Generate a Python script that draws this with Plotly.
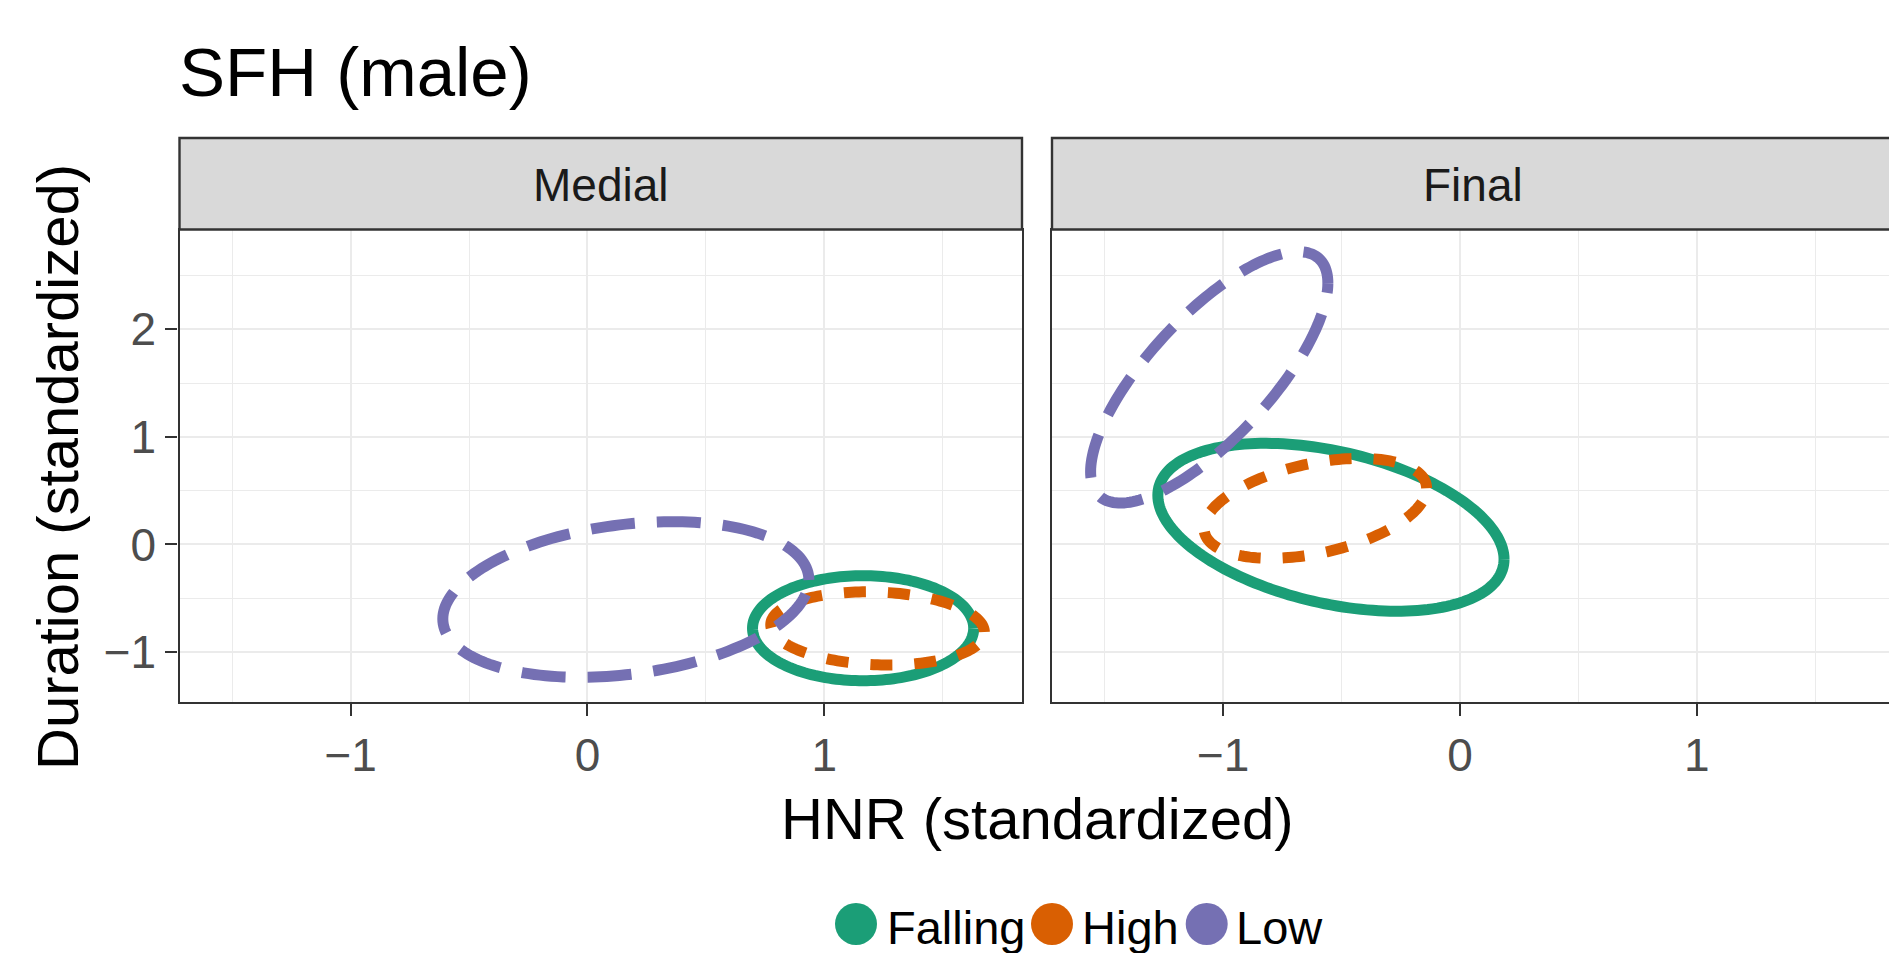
import numpy as np
import plotly.graph_objects as go

W, H = 1889, 953

# ---- data ----
groups = ["Falling", "High", "Low"]
panels = ["Medial", "Final"]
colors = ["#1B9E77", "#D95F02", "#7570B3"]
dashes = ["solid", "22px,22px", "44px,22px"]

# ellipse summaries per panel: centre, half-extent in x / y, correlation
center_x = {"Medial": [1.164, 1.225, 0.162], "Final": [-0.545, -0.611, -1.059]}
center_y = {"Medial": [-0.778, -0.780, -0.511], "Final": [0.160, 0.336, 1.553]}
half_x = {"Medial": [0.467, 0.451, 0.773], "Final": [0.731, 0.470, 0.501]}
half_y = {"Medial": [0.488, 0.340, 0.723], "Final": [0.780, 0.464, 1.168]}
rho = {"Medial": [0.0, -0.10, 0.25], "Final": [-0.38, 0.40, 0.75]}

x_ticks = [-1, 0, 1]
y_ticks = [-1, 0, 1, 2]

FONT = "Liberation Sans, Arial, Helvetica, sans-serif"


def px_x(p):
    return p / W


def px_y(p):
    return 1 - p / H


fig = go.Figure()

t = np.linspace(0, 2 * np.pi, 181)
for pi, panel in enumerate(panels):
    ax = "" if pi == 0 else "2"
    for gi, g in enumerate(groups):
        cx, cy = center_x[panel][gi], center_y[panel][gi]
        X, Y, r = half_x[panel][gi], half_y[panel][gi], rho[panel][gi]
        xs = cx + X * np.cos(t)
        ys = cy + Y * (r * np.cos(t) + np.sqrt(1 - r * r) * np.sin(t))
        fig.add_trace(go.Scatter(
            x=xs, y=ys, mode="lines", name=g, showlegend=False,
            line=dict(color=colors[gi], width=11, dash=dashes[gi], simplify=False),
            xaxis="x" + ax, yaxis="y" + ax, hoverinfo="skip"))

# panel geometry (pixels)
left_l, left_r = 179.5, 1022.0
right_l, right_r = 1052.0, 1894.5
p_top, p_bot = 229.5, 701.5
s_top = 138.0
xr = [-1.723, 1.835]
unit = (left_r - left_l) / (xr[1] - xr[0])
xr2 = [xr[0], xr[0] + (W - right_l) / unit]
yr = [-1.459, 2.927]

axis_common = dict(
    showline=True, linecolor="#333333", linewidth=2.4,
    showgrid=True, gridcolor="#EBEBEB", gridwidth=2.4,
    zeroline=False, ticks="outside", ticklen=12, tickwidth=2.4,
    tickcolor="#333333", tickfont=dict(family=FONT, size=46, color="#4D4D4D"),
    minor=dict(dtick=0.5, tick0=0, showgrid=True, gridcolor="#EBEBEB",
               gridwidth=1.2, ticks=""),
)

fig.update_layout(
    width=W, height=H, margin=dict(l=0, r=0, t=0, b=0),
    paper_bgcolor="white", plot_bgcolor="white", showlegend=False,
    xaxis=dict(domain=[px_x(left_l), px_x(left_r)], range=xr,
               tickvals=x_ticks, mirror=True, anchor="y", **axis_common),
    yaxis=dict(domain=[px_y(p_bot), px_y(p_top)], range=yr,
               tickvals=y_ticks, mirror=True, anchor="x", **axis_common),
    xaxis2=dict(domain=[px_x(right_l), 1.0], range=xr2,
                tickvals=x_ticks, mirror=True, anchor="y2", **axis_common),
    yaxis2=dict(domain=[px_y(p_bot), px_y(p_top)], range=yr,
                tickvals=y_ticks, anchor="x2", **{**axis_common,
                "ticks": "", "showticklabels": False}),
)

shapes = []
annotations = []
# strips
for (l, r), label in zip([(left_l, left_r), (right_l, right_r)], panels):
    shapes.append(dict(type="rect", xref="paper", yref="paper",
                       x0=px_x(l), x1=px_x(r), y0=px_y(p_top), y1=px_y(s_top),
                       fillcolor="#D9D9D9", line=dict(color="#333333", width=2.4),
                       layer="above"))
    annotations.append(dict(text=label, xref="paper", yref="paper",
                            x=px_x((l + r) / 2), y=px_y(185), xanchor="center",
                            yanchor="middle", showarrow=False,
                            font=dict(family=FONT, size=46, color="#1A1A1A")))

# title and axis titles
annotations.append(dict(text="SFH (male)", xref="paper", yref="paper",
                        x=px_x(177), y=px_y(73), xanchor="left", yanchor="middle",
                        showarrow=False, font=dict(family=FONT, size=69, color="black")))
annotations.append(dict(text="HNR (standardized)", xref="paper", yref="paper",
                        x=px_x((left_l + right_r) / 2), y=px_y(818), xanchor="center",
                        yanchor="middle", showarrow=False,
                        font=dict(family=FONT, size=58, color="black")))
annotations.append(dict(text="Duration (standardized)", xref="paper", yref="paper",
                        x=px_x(58), y=px_y(467), xanchor="center", yanchor="middle",
                        textangle=-90, showarrow=False,
                        font=dict(family=FONT, size=58, color="black")))

# legend (manual, large circle keys)
leg_cx = [856, 1052, 1206.7]
leg_tx = [888, 1083, 1236.7]
leg_y = 924
for gi, g in enumerate(groups):
    shapes.append(dict(type="circle", xref="paper", yref="paper",
                       x0=px_x(leg_cx[gi] - 21), x1=px_x(leg_cx[gi] + 21),
                       y0=px_y(leg_y + 21), y1=px_y(leg_y - 21),
                       fillcolor=colors[gi], line=dict(width=0)))
    annotations.append(dict(text=g, xref="paper", yref="paper",
                            x=px_x(leg_tx[gi] - 3), y=px_y(leg_y + 3), xanchor="left",
                            yanchor="middle", showarrow=False,
                            font=dict(family=FONT, size=47, color="black")))

fig.update_layout(shapes=shapes, annotations=annotations)
fig.write_html(
    "out.html",
    config={"displayModeBar": False},
    post_script="document.body.style.margin='0';document.body.style.overflow='hidden';"
                "document.documentElement.style.overflow='hidden';",
)
